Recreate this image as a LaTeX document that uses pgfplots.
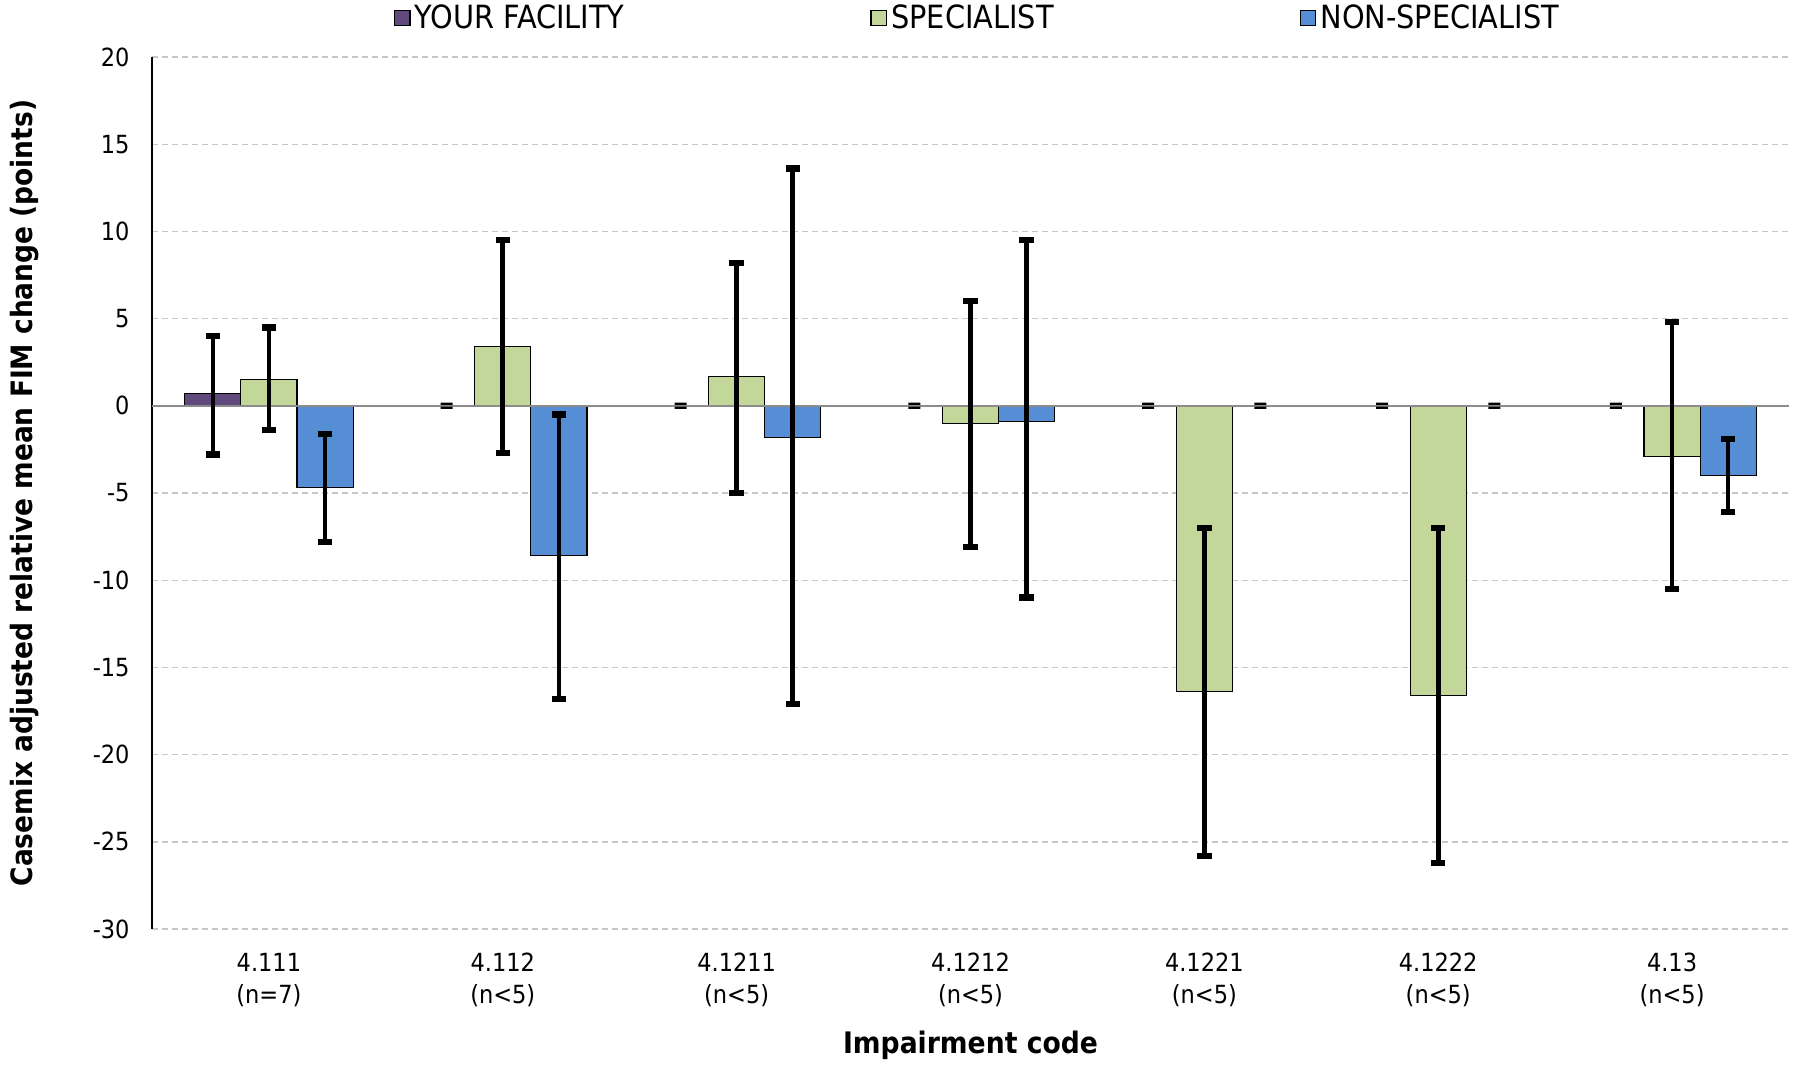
\documentclass[border=0pt]{standalone}
\usepackage{pgfplots}
\pgfplotsset{compat=1.18}
\usepackage{fontspec}
\setmainfont{DejaVu Sans Condensed}
\definecolor{cYF}{HTML}{604A7B}
\definecolor{cSP}{HTML}{C4D79B}
\definecolor{cNS}{HTML}{558ED5}
\definecolor{zline}{HTML}{8C8C8C}
\pgfdeclareplotmark{eq}{%
  \pgfpathrectangle{\pgfpoint{-\pgfplotmarksize}{0.45pt}}{\pgfpoint{2\pgfplotmarksize}{1.1pt}}%
  \pgfpathrectangle{\pgfpoint{-\pgfplotmarksize}{-1.55pt}}{\pgfpoint{2\pgfplotmarksize}{1.1pt}}%
  \pgfusepathqfill}
\pgfdeclareplotmark{cap}{%
  \pgfpathrectangle{\pgfpoint{-1.6pt}{-3.6pt}}{\pgfpoint{3.2pt}{7.2pt}}%
  \pgfusepathqfill}
\pgfplotsset{
  eb/.style={draw=none, mark=none, forget plot,
    error bars/y dir=both, error bars/y explicit,
    error bars/error bar style={draw=black, line width=2.3pt, solid},
    error bars/error mark=cap,
    error bars/error mark options={fill=black, draw=none}},
}
\begin{document}
\begin{tikzpicture}
\begin{axis}[
  scale only axis,
  width=818.5pt, height=436pt,
  xmin=-0.5, xmax=6.5,
  ymin=-30, ymax=20,
  ytick={-30,-25,...,20},
  xtick={0,...,6},
  xticklabels={{4.111\\(n=7)},{4.112\\(n<5)},{4.1211\\(n<5)},{4.1212\\(n<5)},{4.1221\\(n<5)},{4.1222\\(n<5)},{4.13\\(n<5)}},
  xticklabel style={align=center, font=\fontsize{12.5}{16}\selectfont, yshift=-8.6pt},
  yticklabel style={font=\fontsize{12.5}{14}\selectfont, xshift=-7.7pt},
  /pgf/number format/assume math mode=true,
  major tick length=0pt,
  axis lines=left,
  axis line style={-},
  x axis line style={draw=none},
  y axis line style={black, line width=0.9pt},
  ymajorgrids,
  major grid style={gray!45, line width=0.7pt, dash pattern=on 3pt off 2pt},
  ylabel={\bfseries Casemix adjusted relative mean FIM change (points)},
  ylabel style={at={(axis description cs:-0.0776,0.5)}, anchor=center, font=\fontsize{14.7}{17}\selectfont},
  xlabel={\bfseries Impairment code},
  xlabel style={at={(axis description cs:0.5,-0.133)}, anchor=center, font=\fontsize{14.8}{17}\selectfont},
  legend columns=3,
  legend style={at={(0.5,1)}, anchor=center, yshift=19.5pt, xshift=4pt, draw=none, fill=none,
    font=\fontsize{16}{18}\selectfont, inner sep=0pt,
    /tikz/every even column/.append style={column sep=121pt}},
  legend image code/.code={\draw[#1, line width=0.6pt] (0pt,-3.9pt) rectangle (7.8pt,3.9pt);},
  bar width=0.24,
]
\coordinate (O) at (rel axis cs:0,0);
\addplot[ybar, bar shift=-0.24, fill=cYF, draw=black, line width=0.6pt]
  coordinates {(0,0.7)};
\addlegendentry{YOUR FACILITY}
\addplot[ybar, bar shift=0, fill=cSP, draw=black, line width=0.6pt]
  coordinates {(0,1.5) (1,3.4) (2,1.7) (3,-1.0) (4,-16.4) (5,-16.6) (6,-2.9)};
\addlegendentry{SPECIALIST}
\addplot[ybar, bar shift=0.24, fill=cNS, draw=black, line width=0.6pt]
  coordinates {(0,-4.7) (1,-8.6) (2,-1.8) (3,-0.9) (6,-4.0)};
\addlegendentry{NON-SPECIALIST}
\addplot[zline, line width=0.8pt, forget plot] coordinates {(-0.5,0) (6.5,0)};
% error bars (your facility)
\addplot[eb] coordinates {(-0.24,0.7) += (0,3.3) -= (0,3.5)};
% error bars (specialist)
\addplot[eb] coordinates {
  (0,1.5) += (0,3.0) -= (0,2.9)
  (1,3.4) += (0,6.1) -= (0,6.1)
  (2,1.7) += (0,6.5) -= (0,6.7)
  (3,-1.0) += (0,7.0) -= (0,7.1)
  (4,-16.4) += (0,9.4) -= (0,9.4)
  (5,-16.6) += (0,9.6) -= (0,9.6)
  (6,-2.9) += (0,7.7) -= (0,7.6)
  };
% error bars (non-specialist)
\addplot[eb] coordinates {
  (0.24,-4.7) += (0,3.1) -= (0,3.1)
  (1.24,-8.6) += (0,8.1) -= (0,8.2)
  (2.24,-1.8) += (0,15.4) -= (0,15.3)
  (3.24,-0.9) += (0,10.4) -= (0,10.1)
  (6.24,-4.0) += (0,2.1) -= (0,2.1)
  };
\addplot[only marks, mark=eq, mark size=3pt, black, forget plot]
  coordinates {(0.76,0) (1.76,0) (2.76,0) (3.76,0) (4.76,0) (5.76,0) (4.24,0) (5.24,0)};
\end{axis}
\pgfresetboundingbox
\path ([xshift=-76pt,yshift=-69pt]O) rectangle ++(898pt,533.5pt);
\end{tikzpicture}
\end{document}
